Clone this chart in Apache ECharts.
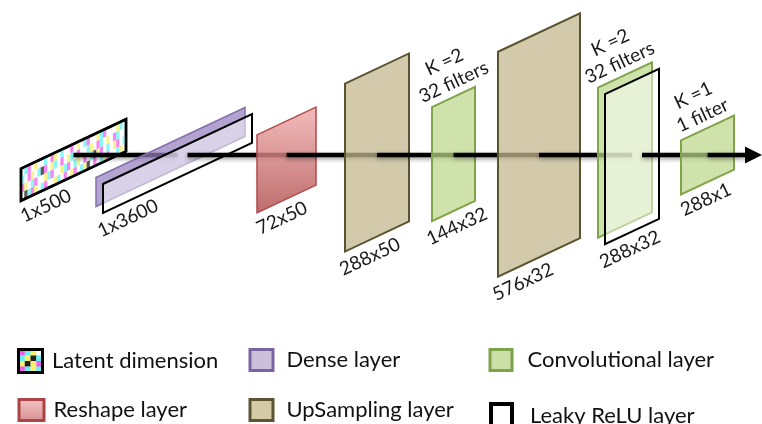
<!DOCTYPE html>
<html><head><meta charset="utf-8">
<script src="https://cdn.jsdelivr.net/npm/echarts@6/dist/echarts.min.js"></script>
<style>html,body{margin:0;padding:0;background:#fff}#c{width:762px;height:424px}</style>
</head><body><div id="c"></div>
<script>
// ---- data ----
const layerKinds = ['Latent dimension','Dense layer','Reshape layer','UpSampling layer','Convolutional layer','UpSampling layer','Convolutional layer','Convolutional layer'];
const sizeLabels = ['1x500','1x3600','72x50','288x50','144x32','576x32','288x32','288x1'];
const filterLabels = ['','','','','K =2\n32 filters','','K =2\n32 filters','K =1\n1 filter'];
const layerLeft = [21,96,257,345,432,498,598,681];
const layerWidth = [105,149,59,64,43,82,54,53];
const layerCenterY = [160,157,160,152.5,154,145,150,155];
const layerHeight = [32,29,78,168,114,225,150,54];
const leakyLayers = [1,6];
const flowY = 155;
const flowEnd = 762;
const legendNames = ['Latent dimension','Reshape layer','Dense layer','UpSampling layer','Convolutional layer','Leaky ReLU layer'];
const latentPattern = [
  'WCMWYWWCWMYWCWWMWYWCMWWYCMWWWYCW',
  'CWMYWCKMWYCWMWYCWMWWCYWMCWYWMCWW',
  'MYWCMWWYCMWWYCMWCYWMWCKYMWCWYMWC',
  'WKCMYWCMWWYCWMWYMWCYKWMWCYMWWCYW'
];
const legendPattern = ['MCYW','CYKC','YKYM','MCYC'];

// ---- styles / layout ----
const SLOPE = 0.47;
const ANG = 25 * Math.PI / 180;
const FONT = 'Lato, "Noto Sans", sans-serif';
const LABEL_FONT = '19px ' + FONT;
const cellColor = {W:'#ffffff', C:'#66f2f4', M:'#f25cec', Y:'#f7f06a', K:'#222222'};
const STY = {
  'Latent dimension': {fill:'#fff', stroke:'#000', lineWidth:2.5},
  'Dense layer': {fill:'rgba(150,128,190,0.72)', stroke:'#8470aa', lineWidth:1.5},
  'Reshape layer': {fill:new echarts.graphic.LinearGradient(0,0,0,1,[{offset:0,color:'rgba(240,170,170,0.8)'},{offset:1,color:'rgba(178,82,82,0.85)'}]), stroke:'#b3484c', lineWidth:1.5},
  'UpSampling layer': {fill:'rgba(196,184,143,0.75)', stroke:'#59532f', lineWidth:2},
  'Convolutional layer': {fill:'rgba(188,215,138,0.72)', stroke:'#7fa449', lineWidth:2},
  'Leaky ReLU layer': {fill:'rgba(255,255,255,0.5)', stroke:'#000', lineWidth:2}
};
const legendIconStyle = {
  'Dense layer': {color:'#cbc0dc', borderColor:'#7a64a2', borderWidth:3},
  'Reshape layer': {color:new echarts.graphic.LinearGradient(0,0,0,1,[{offset:0,color:'#f2c6c6'},{offset:1,color:'#d88e8e'}]), borderColor:'#ac4346', borderWidth:3},
  'UpSampling layer': {color:'#d3cba3', borderColor:'#5b5535', borderWidth:3},
  'Convolutional layer': {color:'#cbdfa6', borderColor:'#7da34a', borderWidth:3},
  'Leaky ReLU layer': {color:'#ffffff', borderColor:'#000000', borderWidth:4}
};
// per legend entry: [left, top, iconW, iconH, textPad]
const legendBox = {
  'Latent dimension': [17, 348, 27, 26, 3],
  'Reshape layer': [17.5, 397, 25, 21, 4.5],
  'Dense layer': [248.5, 347, 23, 21, 8.5],
  'UpSampling layer': [248.5, 397, 23, 21, 8.5],
  'Convolutional layer': [488.5, 347, 22, 21, 10.5],
  'Leaky ReLU layer': [489, 402, 21, 23, 13]
};

function latentIcon() {
  let s = '<svg xmlns="http://www.w3.org/2000/svg" width="27" height="26" viewBox="0 0 27 26">';
  const cw = 23/4, ch = 22/4;
  legendPattern.forEach((row, r) => {
    row.split('').forEach((k, c) => {
      s += `<rect x="${2+c*cw}" y="${2+r*ch}" width="${cw+0.3}" height="${ch+0.3}" fill="${cellColor[k]}"/>`;
    });
  });
  s += '<rect x="1.5" y="1.5" width="24" height="23" fill="none" stroke="#000" stroke-width="3"/></svg>';
  return 'image://data:image/svg+xml;charset=utf-8,' + encodeURIComponent(s);
}

function corners(l, cy, w, h, dx, dy) {
  const yl = cy + SLOPE * w / 2 + dy, yr = cy - SLOPE * w / 2 + dy;
  return [[l + dx, yl - h / 2], [l + w + dx, yr - h / 2], [l + w + dx, yr + h / 2], [l + dx, yl + h / 2]];
}

function makeRender(withLeaky, withFlow) {
  return function (params, api) {
    const i = api.value(4);
    const l = api.value(0), cy = api.value(1), w = api.value(2), h = api.value(3);
    const kind = layerKinds[i];
    const children = [];
    const off = withLeaky ? [7, 6.5] : [0, 0];
    const pts = corners(l, cy, w, h, off[0], off[1]);
    const st = withLeaky ? STY['Leaky ReLU layer'] : STY[kind];
    children.push({type:'polygon', shape:{points: pts.map(p => api.coord(p))}, style:{fill: st.fill, stroke: st.stroke, lineWidth: st.lineWidth, lineJoin:'miter'}});
    if (!withLeaky && kind === 'Latent dimension') {
      const cols = latentPattern[0].length, rows = latentPattern.length;
      for (let r = 0; r < rows; r++) for (let c = 0; c < cols; c++) {
        const k = latentPattern[r][c];
        if (k === 'W') continue;
        const x0 = l + c * w / cols, x1 = l + (c + 1) * w / cols;
        const top = x => cy + SLOPE * (w / 2 - (x - l)) - h / 2;
        const y0 = r * h / rows, y1 = (r + 1) * h / rows;
        children.push({type:'polygon', shape:{points:[[x0, top(x0)+y0],[x1, top(x1)+y0],[x1, top(x1)+y1],[x0, top(x0)+y1]].map(p => api.coord(p))}, style:{fill: cellColor[k], opacity:0.75}});
      }
      children.push({type:'polygon', shape:{points: pts.map(p => api.coord(p))}, style:{fill:'none', stroke:'#000', lineWidth:2.5}});
    }
    if (withFlow) {
      const outerL = l + off[0];
      const midX = outerL + w / 2 + (withLeaky ? 10 : 0);
      let nextX;
      const nxt = i + 1;
      if (nxt < layerLeft.length) nextX = layerLeft[nxt] + layerWidth[nxt] / 2 + (leakyLayers.includes(nxt) ? 7 : 0);
      else nextX = flowEnd - 16;
      const a = api.coord([midX, flowY]), b = api.coord([nextX, flowY]);
      children.push({type:'line', shape:{x1:a[0], y1:a[1], x2:b[0], y2:b[1]}, style:{stroke:'#000', lineWidth:4.5, shadowBlur:4, shadowColor:'rgba(0,0,0,0.4)', shadowOffsetY:2}});
      if (nxt >= layerLeft.length) {
        const t1 = api.coord([flowEnd - 17, flowY - 8.5]), t2 = api.coord([flowEnd, flowY]), t3 = api.coord([flowEnd - 17, flowY + 8.5]);
        children.push({type:'polygon', shape:{points:[t1, t2, t3]}, style:{fill:'#000'}});
      }
      const bl = pts[3];
      const lp = api.coord([outerL + 25, bl[1] - SLOPE * 25 + 17]);
      children.push({type:'text', x: lp[0], y: lp[1], rotation: ANG, style:{text: sizeLabels[i], font: LABEL_FONT, fill:'#1a1a1a', align:'center', verticalAlign:'middle'}});
      if (filterLabels[i]) {
        const tl = corners(l, cy, w, h, 0, 0)[0];
        const fp = api.coord([l + 17, tl[1] - SLOPE * 17 - 27]);
        children.push({type:'text', x: fp[0], y: fp[1], rotation: ANG, style:{text: filterLabels[i], font: LABEL_FONT, fill:'#1a1a1a', align:'center', verticalAlign:'middle', lineHeight:22}});
      }
    }
    return {type:'group', children};
  };
}

const series = [];
layerKinds.forEach((kind, i) => {
  const val = [layerLeft[i], layerCenterY[i], layerWidth[i], layerHeight[i], i];
  const hasLeaky = leakyLayers.includes(i);
  series.push({type:'custom', name: kind, coordinateSystem:'cartesian2d', clip:false, silent:true,
    encode:{x:0, y:1}, data:[val], renderItem: makeRender(false, !hasLeaky)});
  if (hasLeaky) {
    series.push({type:'custom', name:'Leaky ReLU layer', coordinateSystem:'cartesian2d', clip:false, silent:true,
      encode:{x:0, y:1}, data:[val], renderItem: makeRender(true, true)});
  }
});

const legend = legendNames.map(name => {
  const b = legendBox[name];
  const item = name === 'Latent dimension' ? {name, icon: latentIcon()} : {name, icon:'rect', itemStyle: legendIconStyle[name]};
  return {
    orient:'vertical', left: b[0], top: b[1], height: 100, padding: 0,
    itemWidth: b[2], itemHeight: b[3], selectedMode: false,
    textStyle:{fontFamily: FONT, fontSize: 22, color:'#111', lineHeight: 26, padding:[0,0,0,b[4]]},
    data: [item]
  };
});

const chart = echarts.init(document.getElementById('c'), null, {renderer:'canvas'});
chart.setOption({
  animation:false,
  backgroundColor:'#fff',
  grid:{left:0, right:0, top:0, bottom:0},
  xAxis:{type:'value', min:0, max:762, show:false},
  yAxis:{type:'value', min:0, max:424, inverse:true, show:false},
  legend,
  series
});
</script></body></html>
